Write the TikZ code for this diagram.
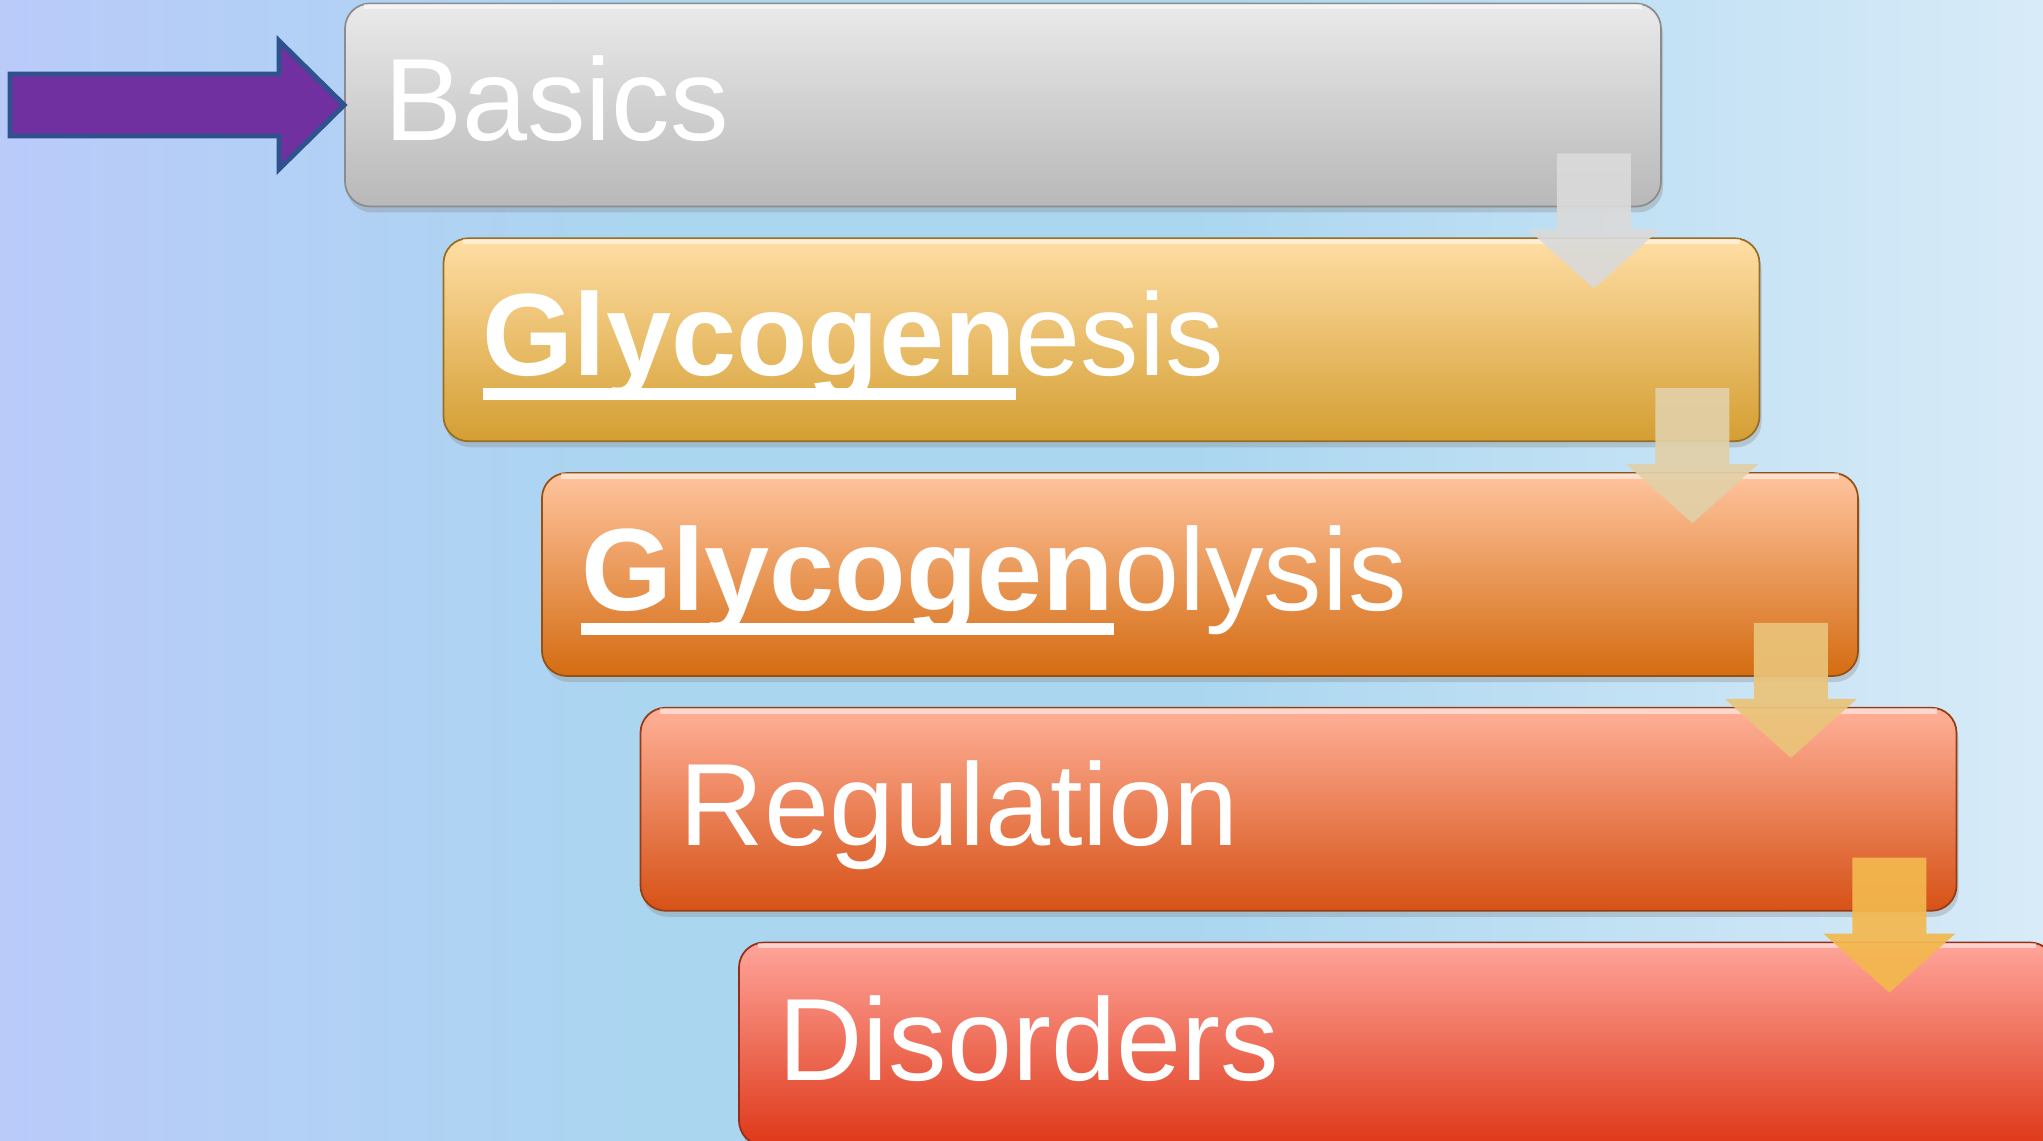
\documentclass[tikz,border=0pt]{standalone}
\usepackage{fontspec}
\setmainfont{Liberation Sans}
\usetikzlibrary{positioning,calc,shadows}
\definecolor{bgleft}{RGB}{186,203,250}
\definecolor{bgmid}{RGB}{170,214,240}
\definecolor{bgright}{RGB}{216,235,248}
\definecolor{purplefill}{RGB}{112,48,160}
\definecolor{purpleedge}{RGB}{47,82,143}
\definecolor{greyedge}{RGB}{140,140,140}
\definecolor{greytop}{RGB}{234,234,234}
\definecolor{greymid}{RGB}{214,214,214}
\definecolor{greybot}{RGB}{184,184,184}
\definecolor{goldedge}{RGB}{150,110,40}
\definecolor{goldtop}{RGB}{255,222,165}
\definecolor{goldmid}{RGB}{246,196,118}
\definecolor{goldbot}{RGB}{212,158,50}
\definecolor{ambedge}{RGB}{150,80,20}
\definecolor{ambtop}{RGB}{255,196,158}
\definecolor{ambmid}{RGB}{246,162,102}
\definecolor{ambbot}{RGB}{212,108,18}
\definecolor{coraledge}{RGB}{150,60,20}
\definecolor{coraltop}{RGB}{255,176,152}
\definecolor{coralmid}{RGB}{250,142,102}
\definecolor{coralbot}{RGB}{214,82,22}
\definecolor{rededge}{RGB}{150,45,20}
\definecolor{redtop}{RGB}{255,165,155}
\definecolor{redmid}{RGB}{254,128,110}
\definecolor{redbot}{RGB}{222,56,24}
\definecolor{arrowA}{RGB}{218,218,218}
\definecolor{arrowB}{RGB}{226,208,168}
\definecolor{arrowC}{RGB}{234,196,122}
\definecolor{arrowD}{RGB}{243,184,78}
\pgfdeclarehorizontalshading{backdrop}{100bp}{color(0bp)=(bgleft); color(25bp)=(bgleft); color(41bp)=(bgmid); color(54bp)=(bgmid); color(75bp)=(bgright); color(100bp)=(bgright)}
\newsavebox{\ulbox}
\newcommand{\thickul}[1]{\sbox{\ulbox}{#1}\rlap{\rule[-0.24cm]{\wd\ulbox}{0.12cm}}\usebox{\ulbox}}
\newcommand{\flowarrow}[2]{%
  \fill[#2,opacity=0.92] ($(#1.south east)+(-0.31,0.54)$) -- ++(0,-0.76) -- ++(0.29,0)
    -- ++(-0.66,-0.59) -- ++(-0.66,0.59) -- ++(0.29,0) -- ++(0,0.76) -- cycle;}
\tikzset{
  stage/.style={line width=0.5pt,rounded corners=0.25cm,minimum width=13.16cm,minimum height=2.03cm,
    text width=12.38cm,inner xsep=0.39cm,inner ysep=0pt,align=left,text height=0.93cm,text depth=0.21cm,
    text=white,font=\fontsize{33.3}{40}\selectfont,
    drop shadow={shadow xshift=0.02cm,shadow yshift=-0.06cm,opacity=0.3}},
  basics/.style={stage,draw=greyedge,top color=greytop,middle color=greymid,bottom color=greybot},
  genesis/.style={stage,draw=goldedge,top color=goldtop,middle color=goldmid,bottom color=goldbot},
  lysis/.style={stage,draw=ambedge,top color=ambtop,middle color=ambmid,bottom color=ambbot},
  regul/.style={stage,draw=coraledge,top color=coraltop,middle color=coralmid,bottom color=coralbot},
  disord/.style={stage,draw=rededge,top color=redtop,middle color=redmid,bottom color=redbot},
  pointer/.style={fill=purplefill,draw=purpleedge,line width=1.4pt,line join=miter}
}
\begin{document}
\begin{tikzpicture}
  \useasboundingbox (0,0) rectangle (20.43,-11.41);
  \clip (0,0) rectangle (20.43,-11.41);
  \shade[shading=backdrop] (0,0) rectangle (20.43,-11.41);

  % stacked stages
  \node[basics] (b1) at (10.03,-1.05) {Basics};
  \node[genesis,below=0.30cm of b1,xshift=0.985cm] (b2) {\thickul{\bfseries Glycogen}esis};
  \node[lysis,below=0.30cm of b2,xshift=0.985cm] (b3) {\thickul{\bfseries Glycogen}olysis};
  \node[regul,below=0.30cm of b3,xshift=0.985cm] (b4) {Regulation};
  \node[disord,below=0.30cm of b4,xshift=0.985cm] (b5) {Disorders};

  % glossy top edge
  \foreach \b in {b1,b2,b3,b4,b5}
    \draw[white,opacity=0.5,line width=1.6pt] ($(\b.north west)+(0.2,-0.04)$) -- ($(\b.north east)+(-0.2,-0.04)$);

  % down arrows between stages
  \flowarrow{b1}{arrowA}
  \flowarrow{b2}{arrowB}
  \flowarrow{b3}{arrowC}
  \flowarrow{b4}{arrowD}

  % pointer to current stage
  \coordinate (tail) at (0.10,-1.05);
  \draw[pointer] (b1.west) -- ++(-0.65,0.64) -- ++(0,-0.33) -- ([yshift=0.31cm]tail)
    -- ([yshift=-0.31cm]tail) -- ($(b1.west)+(-0.65,-0.31)$) -- ++(0,-0.33) -- cycle;
\end{tikzpicture}
\end{document}
